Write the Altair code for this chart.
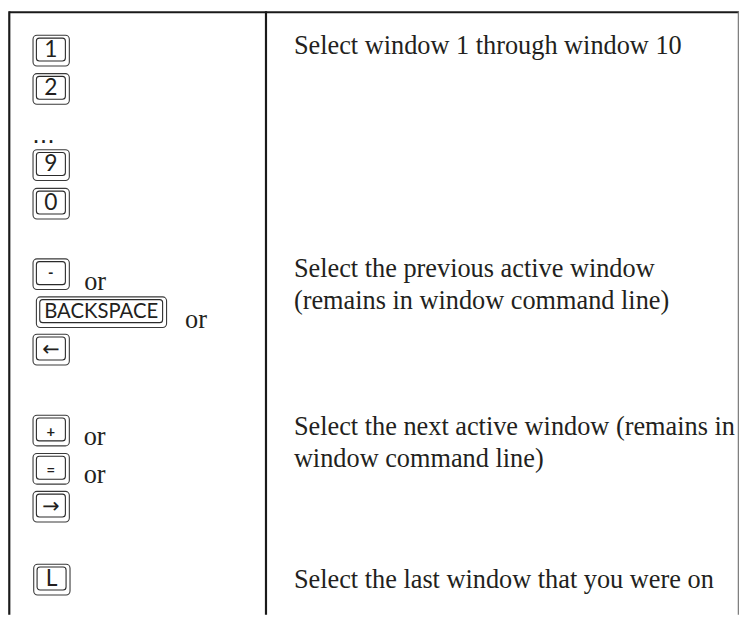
import altair as alt
import pandas as pd

# ---------------- content ----------------
KEYS = ["1", "2", "9", "0", "-", "BACKSPACE", "←", "+", "=", "→", "L"]
KEY_ROW = [0, 0, 0, 0, 1, 1, 1, 2, 2, 2, 3]
OR_AFTER = ["-", "BACKSPACE", "+", "="]          # keys followed by the word "or"
ELLIPSIS = "..."
DESC_LINES = [
    "Select window 1 through window 10",
    "Select the previous active window",
    "(remains in window command line)",
    "Select the next active window (remains in",
    "window command line)",
    "Select the last window that you were on",
]
DESC_ROW = [0, 1, 1, 2, 2, 3]

# ---------------- layout (page pixels) ----------------
W, H = 742, 610
X0, Y0 = 8, 8
KEY_TOP = {"1": 32.3, "2": 71.0, "9": 148.0, "0": 187.0, "-": 258.3,
           "BACKSPACE": 296.7, "←": 334.5, "+": 416.3, "=": 455.0,
           "→": 493.3, "L": 567.0}
KEY_LEFT = {"BACKSPACE": 36.7, "L": 34.0}
KEY_WIDTH = {"BACKSPACE": 131.6}
DEFAULT_LEFT, DEFAULT_WIDTH, KEY_H = 33.3, 36.7, 31.0
INSET_L, INSET_R, INSET_T, INSET_B = 3.4, 4.0, 2.8, 5.0
LABEL_FONT = {"BACKSPACE": 20.5, "-": 15, "+": 15, "=": 15}
LABEL_DY = {"-": 19.5}
ARROWS = ["←", "→"]
SMALL = ["-", "+", "="]
OR_POS = {"-": (85.0, 290.0), "BACKSPACE": (187.0, 328.3),
          "+": (84.5, 446.7), "=": (84.5, 485.0)}
ELLIPSIS_POS = (32.5, 141.0)
DESC_X = 297.0
DESC_BASE = [51.5, 276.5, 309.0, 436.0, 469.0, 591.5]
SERIF = "Liberation Serif"
SERIF_SIZE = 26.6
INK = "#231f20"

xs = alt.Scale(domain=[X0, X0 + W], range=[0, W], zero=False, nice=False)
ys = alt.Scale(domain=[Y0, Y0 + H], range=[0, H], zero=False, nice=False)


def X(f):
    return alt.X(f, type="quantitative", scale=xs, axis=None)


def Y(f):
    return alt.Y(f, type="quantitative", scale=ys, axis=None)


# ---------------- key caps ----------------
rows = []
for k, r in zip(KEYS, KEY_ROW):
    left = KEY_LEFT.get(k, DEFAULT_LEFT)
    w = KEY_WIDTH.get(k, DEFAULT_WIDTH)
    top = KEY_TOP[k]
    rows.append(dict(key=k, row=r, x=left, x2=left + w, y=top, y2=top + KEY_H,
                     ix=left + INSET_L, ix2=left + w - INSET_R,
                     iy=top + INSET_T, iy2=top + KEY_H - INSET_B,
                     lx=left + INSET_L + (w - INSET_L - INSET_R) / 2,
                     ly=top + LABEL_DY.get(k, 21.7),
                     fs=LABEL_FONT.get(k, 23)))
keys_df = pd.DataFrame(rows)

outer = alt.Chart(keys_df).mark_rect(
    fillOpacity=0, stroke="#3a3a3a", strokeWidth=1.1, cornerRadius=4
).encode(x=X("x"), x2="x2", y=Y("y"), y2="y2")

inner = alt.Chart(keys_df).mark_rect(
    fillOpacity=0, stroke="#2a2a2a", strokeWidth=1.1, cornerRadius=3
).encode(x=X("ix"), x2="ix2", y=Y("iy"), y2="iy2")

label_df = keys_df[~keys_df["key"].isin(ARROWS + SMALL)]
small_df = keys_df[keys_df["key"].isin(SMALL)]
arrow_df = keys_df[keys_df["key"].isin(ARROWS)]

labels = alt.Chart(label_df).mark_text(
    font="Lato", align="center", baseline="alphabetic", color=INK
).encode(x=X("lx"), y=Y("ly"), text="key:N", size=alt.Size("fs:Q", scale=None))

smalls = alt.Chart(small_df).mark_text(
    font="Lato", fontWeight="bold", align="center", baseline="alphabetic", color=INK
).encode(x=X("lx"), y=Y("ly"), text="key:N", size=alt.Size("fs:Q", scale=None))

arrows = alt.Chart(arrow_df).mark_text(
    font="DejaVu Sans", fontSize=21, align="center", baseline="alphabetic", color=INK
).encode(x=X("lx"), y=Y("ly"), text="key:N")

# ---------------- "or" words and ellipsis ----------------
or_df = pd.DataFrame([dict(t="or", x=OR_POS[k][0], y=OR_POS[k][1]) for k in OR_AFTER])
ors = alt.Chart(or_df).mark_text(
    font=SERIF, fontSize=SERIF_SIZE, align="left", baseline="alphabetic", color=INK
).encode(x=X("x"), y=Y("y"), text="t:N")

ell_df = pd.DataFrame([dict(t=ELLIPSIS, x=ELLIPSIS_POS[0], y=ELLIPSIS_POS[1])])
ell = alt.Chart(ell_df).mark_text(
    font="DejaVu Sans", fontSize=24, align="left", baseline="alphabetic", color=INK
).encode(x=X("x"), y=Y("y"), text="t:N")

# ---------------- descriptions ----------------
desc_df = pd.DataFrame(dict(t=DESC_LINES, row=DESC_ROW, x=[DESC_X] * len(DESC_LINES), y=DESC_BASE))
desc = alt.Chart(desc_df).mark_text(
    font=SERIF, fontSize=SERIF_SIZE, align="left", baseline="alphabetic", color=INK
).encode(x=X("x"), y=Y("y"), text="t:N")

# ---------------- table borders ----------------
hline_df = pd.DataFrame([dict(x=9.3, x2=747.0, y=9.0)])
hline = alt.Chart(hline_df).mark_rule(color="#1a1a1a", strokeWidth=2.2).encode(
    x=X("x"), x2="x2", y=Y("y"))

vline_df = pd.DataFrame([dict(x=9.3, y=8.0, y2=618.0), dict(x=268.8, y=8.0, y2=618.0)])
vlines = alt.Chart(vline_df).mark_rule(color="#1a1a1a", strokeWidth=2.2).encode(
    x=X("x"), y=Y("y"), y2="y2")

rline_df = pd.DataFrame([dict(x=746.3, y=8.0, y2=618.0)])
rline = alt.Chart(rline_df).mark_rule(color="#777777", strokeWidth=1.2).encode(
    x=X("x"), y=Y("y"), y2="y2")

chart = alt.layer(
    hline, vlines, rline, outer, inner, labels, smalls, arrows, ors, ell, desc
).properties(
    width=W, height=H, padding=0, autosize=alt.AutoSizeParams(type="none")
).configure_view(stroke=None)

chart.save("out.html", embed_options={"renderer": "svg", "actions": False})
